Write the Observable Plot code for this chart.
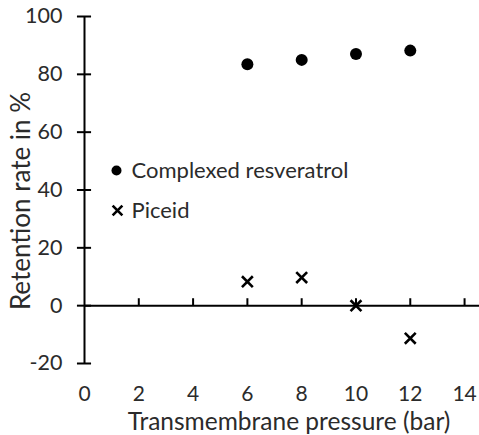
<!DOCTYPE html>
<html>
<head>
<meta charset="utf-8">
<script src="https://cdn.jsdelivr.net/npm/d3@7"></script>
<script src="https://cdn.jsdelivr.net/npm/@observablehq/plot@0.6"></script>
<style>
  html, body { margin: 0; padding: 0; background: #fff; }
  #chart svg { display: block; }
</style>
</head>
<body>
<div id="chart"></div>
<script>
const pressure = [6, 8, 10, 12];
const complexedResveratrol = [83.5, 85.0, 87.0, 88.2];
const piceid = [8.3, 9.7, 0.0, -11.3];
const xTicks = [0, 2, 4, 6, 8, 10, 12, 14];
const yTicks = [-20, 0, 20, 40, 60, 80, 100];
const seriesNames = ["Complexed resveratrol", "Piceid"];
const xLabel = "Transmembrane pressure (bar)";
const yLabel = "Retention rate in %";

const resData = pressure.map((p, i) => ({x: p, y: complexedResveratrol[i]}));
const picData = pressure.map((p, i) => ({x: p, y: piceid[i]}));

const textColor = "#2b2b2b";
const font = "Lato, 'Open Sans', sans-serif";

const chart = Plot.plot({
  width: 479,
  height: 435,
  marginLeft: 84,
  marginRight: 0,
  marginTop: 16,
  marginBottom: 72,
  style: {fontFamily: font, fontSize: "20px", color: textColor, background: "#fff"},
  x: {domain: [0, 14.55], axis: null},
  y: {domain: [-20, 100], axis: null},
  marks: [
    Plot.ruleX([0], {y1: -20, y2: 100, stroke: "black", strokeWidth: 2}),
    Plot.ruleY(yTicks, {y: d => d, x1: -0.26, x2: 0.26, stroke: "black", strokeWidth: 2}),
    Plot.ruleY([0], {x1: 0, x2: 14.55, stroke: "black", strokeWidth: 2}),
    Plot.ruleX(xTicks.filter(d => d > 0), {x: d => d, y1: 0, y2: 2.4, stroke: "black", strokeWidth: 2}),
    Plot.text(yTicks, {y: d => d, frameAnchor: "left", dx: -22, textAnchor: "end", lineAnchor: "middle", fill: textColor, fontSize: 21.5}),
    Plot.text(xTicks, {x: d => d, frameAnchor: "bottom", dy: 31, textAnchor: "middle", lineAnchor: "middle", fill: textColor, fontSize: 21}),
    Plot.text([yLabel], {frameAnchor: "left", rotate: -90, dx: -63, dy: 11, textAnchor: "middle", lineAnchor: "middle", fill: textColor, fontSize: 26}),
    Plot.text([xLabel], {frameAnchor: "bottom", dx: 7, dy: 59, textAnchor: "middle", lineAnchor: "middle", fill: textColor, fontSize: 24.5}),
    Plot.dot(resData, {x: "x", y: "y", r: 6, fill: "black", stroke: "none"}),
    Plot.dot(picData, {x: "x", y: "y", symbol: "times", r: 5, stroke: "black", strokeWidth: 2.6}),
    Plot.dot([seriesNames[0]], {frameAnchor: "top-left", dx: 32, dy: 154, r: 5, fill: "black", stroke: "none"}),
    Plot.text([seriesNames[0]], {frameAnchor: "top-left", dx: 47, dy: 154, textAnchor: "start", lineAnchor: "middle", fill: textColor, fontSize: 22}),
    Plot.dot([seriesNames[1]], {frameAnchor: "top-left", dx: 33, dy: 194, symbol: "times", r: 4.5, stroke: "black", strokeWidth: 2.6}),
    Plot.text([seriesNames[1]], {frameAnchor: "top-left", dx: 47, dy: 194, textAnchor: "start", lineAnchor: "middle", fill: textColor, fontSize: 22})
  ]
});
document.getElementById("chart").appendChild(chart);
</script>
</body>
</html>
